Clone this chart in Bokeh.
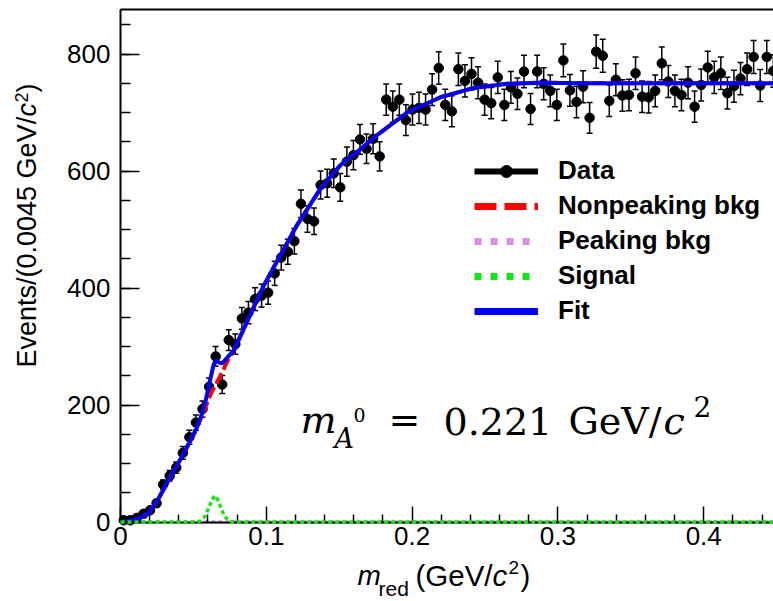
import numpy as np
from bokeh.plotting import figure
from bokeh.models import (ColumnDataSource, Whisker, TeeHead, Range1d, LinearAxis,
                          FixedTicker, SingleIntervalTicker, Legend, LegendItem, Label)
from bokeh.embed import file_html
from bokeh.resources import INLINE

# ---------------- data ----------------
bin_width = 0.0045
counts = [3, 3, 7, 14, 20, 32, 64, 79, 93, 118,
          145, 170, 193, 231, 283, 235, 311, 304, 348, 358,
          381, 387, 392, 425, 452, 462, 480, 544, 518, 514,
          576, 579, 596, 572, 616, 627, 654, 638, 655, 625,
          722, 710, 722, 687, 705, 708, 705, 739, 776, 713,
          702, 774, 754, 766, 751, 722, 716, 760, 713, 743,
          732, 770, 706, 770, 749, 737, 713, 789, 738, 718,
          744, 691, 804, 797, 720, 756, 729, 730, 767, 727,
          726, 737, 784, 753, 737, 730, 751, 710, 747, 777,
          760, 767, 733, 745, 758, 774, 795, 746, 795, 771]

fit_x = [0.0, 0.005, 0.01, 0.015, 0.0194, 0.025, 0.0309, 0.0365, 0.0423, 0.0514,
         0.0549, 0.0583, 0.0617, 0.064, 0.0652, 0.0674, 0.0697, 0.0743, 0.0777,
         0.0869, 0.0915, 0.0983, 0.1052, 0.1212, 0.1372, 0.1509, 0.1635, 0.1737,
         0.1966, 0.2195, 0.2423, 0.2652, 0.288, 0.32, 0.45]
fit_y = [0, 1, 4, 9, 16, 35, 62, 88, 112, 156,
         178, 206, 245, 270, 276, 273, 271, 284, 293,
         343, 368, 404, 436, 508, 570, 610, 635, 657,
         700, 726, 742, 749, 751, 750, 750]

bkg_x = [0.0, 0.005, 0.01, 0.015, 0.0194, 0.025, 0.0309, 0.0365, 0.0423, 0.0514,
         0.0549, 0.0583, 0.0617, 0.0652, 0.0697, 0.0743, 0.0777,
         0.0869, 0.0915, 0.0983, 0.1052, 0.1212, 0.1372, 0.1509, 0.1635, 0.1737,
         0.1966, 0.2195, 0.2423, 0.2652, 0.288, 0.32, 0.45]
bkg_y = [0, 1, 4, 9, 16, 35, 62, 88, 112, 156,
         176, 196, 218, 234, 256, 280, 293,
         343, 368, 404, 436, 508, 570, 610, 635, 657,
         700, 726, 742, 749, 751, 750, 750]

sig_x = [0.0, 0.052, 0.055, 0.058, 0.0605, 0.0628, 0.0647, 0.0668, 0.069, 0.0713, 0.0745, 0.078, 0.45]
sig_y = [0, 0, 2, 10, 24, 38, 45, 38, 24, 10, 2, 0, 0]

peak_x = [0.0, 0.45]
peak_y = [0, 0]

x_ticks = [0, 0.1, 0.2, 0.3, 0.4]
x_tick_labels = ["0", "0.1", "0.2", "0.3", "0.4"]
x_minor_ticks = [0.02, 0.04, 0.06, 0.08, 0.12, 0.14, 0.16, 0.18, 0.22, 0.24, 0.26,
                 0.28, 0.32, 0.34, 0.36, 0.38, 0.42, 0.44]

legend_labels = ["Data", "Nonpeaking bkg", "Peaking bkg", "Signal", "Fit"]

# ---------------- layout ----------------
W, H = 773, 601
X0_PX = 120.0          # page px of x = 0
Y0_PX = 521.5          # page px of y = 0
PX_PER_X = 1458.0
PX_PER_Y = 0.585
Y_TOP = 875.5          # frame top value
K_BASE = 0.45          # empirical anchor-to-baseline correction (fraction of font size)

centers = (np.arange(len(counts)) + 0.5) * bin_width
cnt = np.array(counts, dtype=float)
err = np.sqrt(cnt)
src = ColumnDataSource(dict(x=centers, y=cnt, lo=cnt - err, hi=cnt + err))

p = figure(width=W, height=H, output_backend="svg", toolbar_location=None,
           x_range=Range1d(-X0_PX / PX_PER_X, (W - X0_PX) / PX_PER_X),
           y_range=Range1d(-(H - Y0_PX) / PX_PER_Y, Y0_PX / PX_PER_Y),
           min_border=0, min_border_left=0, min_border_right=0,
           min_border_top=0, min_border_bottom=0)
p.grid.visible = False
p.outline_line_color = None
p.background_fill_color = "white"
p.border_fill_color = "white"

FONT = "Liberation Sans"

xa = p.xaxis[0]
xa.ticker = FixedTicker(ticks=x_ticks, minor_ticks=x_minor_ticks)
xa.major_label_overrides = dict(zip(x_ticks, x_tick_labels))
xa.fixed_location = 0
xa.bounds = (0, 0.46)
xa.major_tick_in = 16
xa.major_tick_out = 0
xa.minor_tick_in = 8
xa.minor_tick_out = 0
xa.axis_line_width = 2
xa.major_tick_line_width = 1.5
xa.minor_tick_line_width = 1.5
xa.major_label_text_font = FONT
xa.major_label_text_font_size = "26px"
xa.major_label_text_color = "black"
xa.major_label_standoff = 5

ya = p.yaxis[0]
ya.ticker = SingleIntervalTicker(interval=200, num_minor_ticks=4)
ya.fixed_location = 0
ya.bounds = (0, Y_TOP)
ya.major_tick_in = 19
ya.major_tick_out = 0
ya.minor_tick_in = 10
ya.minor_tick_out = 0
ya.axis_line_width = 2
ya.major_tick_line_width = 1.5
ya.minor_tick_line_width = 1.5
ya.major_label_text_font = FONT
ya.major_label_text_font_size = "26px"
ya.major_label_text_color = "black"
ya.major_label_standoff = 10

top = LinearAxis(ticker=FixedTicker(ticks=[]), major_label_text_font_size="0px",
                 major_tick_in=0, major_tick_out=0, minor_tick_in=0, minor_tick_out=0,
                 major_label_standoff=0, axis_line_width=2,
                 fixed_location=Y_TOP, bounds=(0, 0.46))
p.add_layout(top, "above")

# ---------------- data ----------------
p.add_layout(Whisker(source=src, base="x", lower="lo", upper="hi", dimension="height",
                     line_color="black", line_width=1.5,
                     lower_head=TeeHead(size=6, line_width=1.5, line_color="black"),
                     upper_head=TeeHead(size=6, line_width=1.5, line_color="black")))
p.scatter("x", "y", source=src, size=9.5, color="black")

# ---------------- model curves ----------------
r_pk = p.line(peak_x, peak_y, line_color="#DA8EF2", line_width=3.5, line_dash="4 3")
r_bkg = p.line(bkg_x, bkg_y, line_color="#FF0000", line_width=4, line_dash="12 4")
r_fit = p.line(fit_x, fit_y, line_color="#0000FF", line_width=4)
r_sig = p.line(sig_x, sig_y, line_color="#11E811", line_width=3.5, line_dash="4 3")
r_sig.level = "overlay"

# ---------------- legend (legend-only glyph styles) ----------------
nan = [float("nan")]
l_data_line = p.line(x=nan, y=nan, line_color="black", line_width=6)
l_data_pt = p.scatter(x=nan, y=nan, size=14, color="black")
l_bkg = p.line(x=nan, y=nan, line_color="#FF0000", line_width=7, line_dash="22 8")
l_pk = p.line(x=nan, y=nan, line_color="#DA8EF2", line_width=7, line_dash="7 9")
l_sig = p.line(x=nan, y=nan, line_color="#11E811", line_width=7, line_dash="7 9")
l_fit = p.line(x=nan, y=nan, line_color="#0000FF", line_width=7)

legend = Legend(items=[
    LegendItem(label=legend_labels[0], renderers=[l_data_line, l_data_pt]),
    LegendItem(label=legend_labels[1], renderers=[l_bkg]),
    LegendItem(label=legend_labels[2], renderers=[l_pk]),
    LegendItem(label=legend_labels[3], renderers=[l_sig]),
    LegendItem(label=legend_labels[4], renderers=[l_fit]),
], location=(474, H - 326), glyph_width=64, glyph_height=30, label_height=30,
   label_standoff=20, spacing=4, padding=0, margin=0,
   border_line_alpha=0, background_fill_alpha=0,
   label_text_font=FONT, label_text_font_style="bold", label_text_font_size="26px",
   label_text_color="black")
p.add_layout(legend)

# ---------------- texts ----------------
def lab(text, X, Y, size, font=FONT, style="normal", rotated=False):
    """Place text so that its baseline starts at page pixel (X, Y)."""
    if rotated:
        ax, ay, ang = X - K_BASE * size, Y, np.pi / 2
    else:
        ax, ay, ang = X, Y - K_BASE * size, 0.0
    p.add_layout(Label(x=ax, y=H - ay, x_units="screen", y_units="screen", text=text,
                       text_font=font, text_font_size=f"{size}px", text_font_style=style,
                       text_color="black", text_baseline="alphabetic", text_align="left",
                       angle=ang))

# x-axis title: m_red (GeV/c^2)
lab("m", 357, 588, 28, style="italic")
lab("red", 378, 597, 21)
lab("(GeV/", 415, 588, 29.5)
lab("c", 492, 588, 29.5, style="italic")
lab("2", 508, 576, 19)
lab(")", 520, 588, 29.5)

# y-axis title: Events/(0.0045 GeV/c^2) rotated
lab("Events/(0.0045 GeV/", 39, 367, 27, rotated=True)
lab("c", 39, 116, 27, style="italic", rotated=True)
lab("2", 29, 102, 18, rotated=True)
lab(")", 39, 92, 27, rotated=True)

# annotation m_{A^0} = 0.221 GeV/c^2
SERIF = "DejaVu Serif"
lab("m", 300, 437, 38, font=SERIF, style="italic")
lab("A", 334, 450, 27, font=SERIF, style="italic")
lab("0", 353, 423, 19, font=SERIF)
lab("=", 388, 437, 38, font=SERIF)
lab("0.221", 443, 438, 38, font=SERIF)
lab("GeV/", 568, 438, 38, font=SERIF)
lab("c", 663, 438, 38, font=SERIF, style="italic")
lab("2", 693, 419, 28, font=SERIF)

open("out.html", "w").write(file_html(p, INLINE))
